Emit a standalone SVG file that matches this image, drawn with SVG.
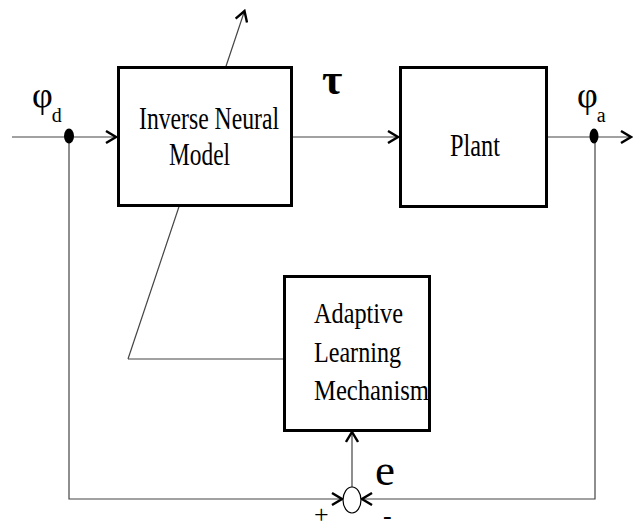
<svg xmlns="http://www.w3.org/2000/svg" width="633" height="529" viewBox="0 0 633 529">
<style>
.box{fill:#fff;stroke:#000;stroke-width:3}
.ln{fill:none;stroke:#444;stroke-width:1.2}
.lbl{font-family:"Liberation Serif","Times New Roman",serif;fill:#000}
.dot{fill:#000}
</style>
<defs>
<marker id="ah" markerUnits="userSpaceOnUse" markerWidth="14" markerHeight="14" viewBox="-12 -7 14 14" refX="0" refY="0" orient="auto">
<path d="M-10,-6 L0,0 L-10,6" fill="none" stroke="#000" stroke-width="2.4"/>
</marker>
</defs>
<g id="connectors">
<line class="ln" x1="128" y1="359" x2="244.5" y2="11" marker-end="url(#ah)"/>
<line class="ln" x1="128" y1="359" x2="284" y2="359"/>
<line class="ln" x1="12" y1="137" x2="116" y2="137" marker-end="url(#ah)"/>
<line class="ln" x1="293" y1="137" x2="398" y2="137" marker-end="url(#ah)"/>
<line class="ln" x1="548" y1="137" x2="631" y2="137" marker-end="url(#ah)"/>
<polyline class="ln" points="69,137 69,499 342,499" marker-end="url(#ah)"/>
<polyline class="ln" points="595,137 595,499 362,499" marker-end="url(#ah)"/>
<line class="ln" x1="352" y1="487" x2="352" y2="432" marker-end="url(#ah)"/>
</g>
<g id="node-inverse">
<rect class="box" x="118.5" y="67.5" width="173" height="138"/>
<text class="lbl" x="139" y="129" font-size="31" textLength="140" lengthAdjust="spacingAndGlyphs">Inverse Neural</text>
<text class="lbl" x="169" y="165" font-size="31" textLength="61" lengthAdjust="spacingAndGlyphs">Model</text>
</g>
<g id="node-plant">
<rect class="box" x="400.5" y="67.5" width="146" height="139"/>
<text class="lbl" x="450" y="156" font-size="32" textLength="50" lengthAdjust="spacingAndGlyphs">Plant</text>
</g>
<g id="node-adaptive">
<rect class="box" x="284.5" y="276.5" width="145" height="154"/>
<text class="lbl" x="314" y="323" font-size="30" textLength="89" lengthAdjust="spacingAndGlyphs">Adaptive</text>
<text class="lbl" x="314" y="362" font-size="30" textLength="87" lengthAdjust="spacingAndGlyphs">Learning</text>
<text class="lbl" x="314" y="400" font-size="30" textLength="115" lengthAdjust="spacingAndGlyphs">Mechanism</text>
</g>
<g id="node-sum">
<ellipse cx="352" cy="500" rx="9" ry="13" fill="#fff" stroke="#000" stroke-width="1.2"/>
</g>
<g id="node-dot-d">
<ellipse class="dot" cx="69" cy="136" rx="5" ry="7.5"/>
</g>
<g id="node-dot-a">
<ellipse class="dot" cx="594" cy="136" rx="4.5" ry="7.5"/>
</g>
<g id="labels">
<text class="lbl" x="32" y="107" font-size="36">φ<tspan font-size="20" dx="-1" dy="15">d</tspan></text>
<text class="lbl" x="577" y="107" font-size="36">φ<tspan font-size="20" dx="-1" dy="15">a</tspan></text>
<text class="lbl" x="322" y="94" font-size="44" font-weight="bold">τ</text>
<text class="lbl" x="375" y="485" font-size="45">e</text>
<text class="lbl" x="314" y="523" font-size="26">+</text>
<text class="lbl" x="383" y="524" font-size="26">-</text>
</g>
</svg>
